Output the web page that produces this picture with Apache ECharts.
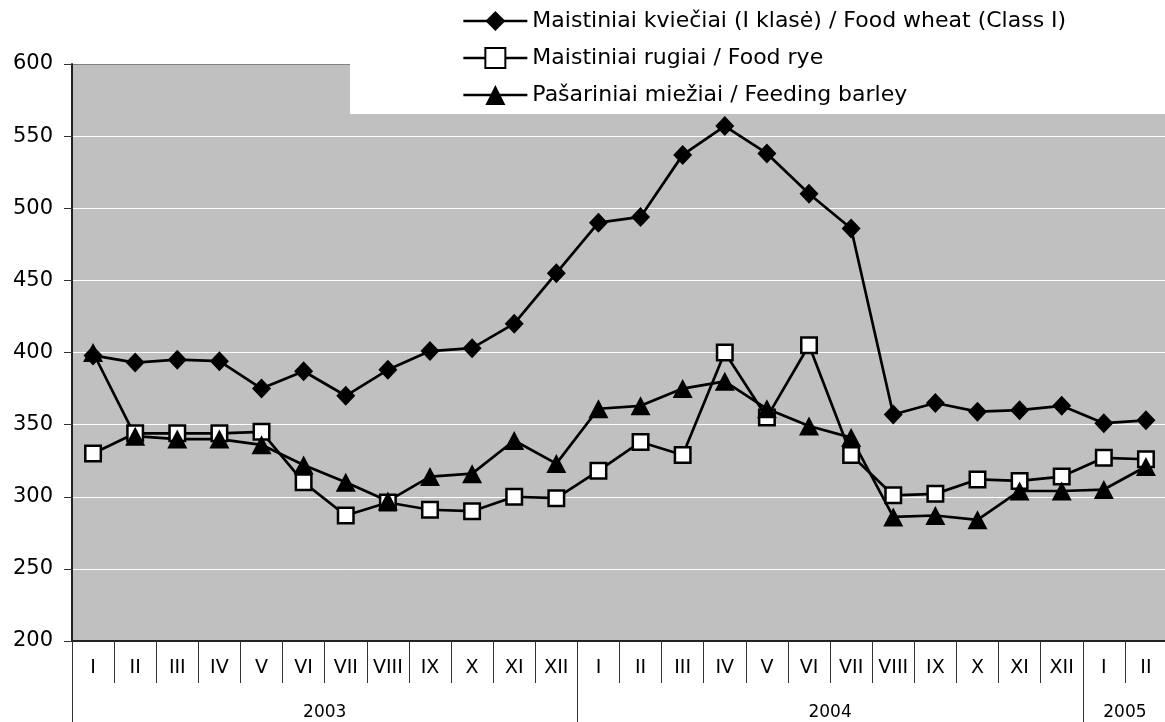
<!DOCTYPE html>
<html>
<head>
<meta charset="utf-8">
<title>Grain prices</title>
<script src="https://cdn.jsdelivr.net/npm/echarts@6/dist/echarts.min.js"></script>
<style>
  html, body { margin: 0; padding: 0; background: #fff; }
  #chart { width: 1165px; height: 722px; }
</style>
</head>
<body>
<div id="chart"></div>
<script>
// months (2003 I .. 2005 II)
var months = ['I','II','III','IV','V','VI','VII','VIII','IX','X','XI','XII',
              'I','II','III','IV','V','VI','VII','VIII','IX','X','XI','XII',
              'I','II'];
var years = ['2003', '2004', '2005'];
var yearMid = [6, 18, 25];          // middle of each year's span, in months
var yearBounds = [0, 12, 24, 26];   // separators, in months

var seriesNames = [
  'Maistiniai kviečiai (I klasė) / Food wheat (Class I)',
  'Maistiniai rugiai / Food rye',
  'Pašariniai miežiai / Feeding barley'
];
var wheat  = [398, 393, 395, 394, 375, 387, 370, 388, 401, 403, 420, 455,
              490, 494, 537, 557, 538, 510, 486, 357, 365, 359, 360, 363,
              351, 353];
var rye    = [330, 344, 344, 344, 345, 310, 287, 296, 291, 290, 300, 299,
              318, 338, 329, 400, 355, 405, 329, 301, 302, 312, 311, 314,
              327, 326];
var barley = [400, 342, 340, 340, 336, 322, 310, 297, 314, 316, 339, 323,
              361, 363, 375, 380, 361, 349, 341, 286, 287, 284, 304, 304,
              305, 321];

var chart = echarts.init(document.getElementById('chart'), null, { renderer: 'canvas' });

var FONT = 'DejaVu Sans';
var lineW = 2.7;

chart.setOption({
  animation: false,
  backgroundColor: '#fff',
  textStyle: { fontFamily: FONT, color: '#000' },
  legend: {
    orient: 'vertical',
    left: 350,
    top: 0,
    padding: [10, 600, 8, 112],
    backgroundColor: '#fff',
    itemWidth: 64,
    itemHeight: 25,
    itemGap: 15,
    lineStyle: { color: '#000', width: lineW },
    textStyle: { fontSize: 22, color: '#000', fontFamily: FONT, lineHeight: 22 },
    data: seriesNames
  },
  grid: {
    left: 72,
    right: -2,
    top: 64,
    bottom: 81,
    show: true,
    backgroundColor: '#C0C0C0',
    borderWidth: 0,
    outerBoundsMode: 'none'
  },
  xAxis: [
    {
      type: 'category',
      data: months,
      boundaryGap: true,
      position: 'bottom',
      axisLine: { show: true, lineStyle: { color: '#222', width: 2 } },
      axisTick: { show: true, interval: 0, length: 42, lineStyle: { color: '#333', width: 1 } },
      axisLabel: { interval: 0, fontSize: 19, lineHeight: 19, margin: 18, color: '#000', fontFamily: FONT },
      splitLine: { show: false }
    },
    {
      type: 'value',
      min: 0,
      max: 26,
      position: 'bottom',
      axisLine: { show: false },
      axisTick: { show: true, customValues: yearBounds, length: 81, lineStyle: { color: '#333', width: 1 } },
      axisLabel: {
        customValues: yearMid,
        fontSize: 17,
        lineHeight: 17,
        margin: 63,
        color: '#000',
        fontFamily: FONT,
        formatter: function (v) { return years[yearMid.indexOf(v)] || ''; }
      },
      splitLine: { show: false }
    }
  ],
  yAxis: {
    type: 'value',
    min: 200,
    max: 600,
    interval: 50,
    axisLine: { show: true, lineStyle: { color: '#222', width: 2 } },
    axisTick: { show: true, length: 8, lineStyle: { color: '#333' } },
    axisLabel: { fontSize: 21, margin: 19, color: '#000', fontFamily: FONT },
    splitLine: {
      show: true,
      lineStyle: {
        color: ['#fff', '#fff', '#fff', '#fff', '#fff', '#fff', '#fff', '#fff', '#808080'],
        width: 1
      }
    }
  },
  series: [
    {
      name: seriesNames[0],
      type: 'line',
      data: wheat,
      symbol: 'diamond',
      symbolSize: [19, 20],
      lineStyle: { color: '#000', width: lineW },
      itemStyle: { color: '#000', borderColor: '#000', borderWidth: 0 }
    },
    {
      name: seriesNames[1],
      type: 'line',
      data: rye,
      symbol: 'rect',
      symbolSize: 15.5,
      lineStyle: { color: '#000', width: lineW },
      itemStyle: { color: '#fff', borderColor: '#000', borderWidth: 2.5 }
    },
    {
      name: seriesNames[2],
      type: 'line',
      data: barley,
      symbol: 'triangle',
      symbolSize: [20, 19],
      lineStyle: { color: '#000', width: lineW },
      itemStyle: { color: '#000', borderColor: '#000', borderWidth: 0 }
    }
  ]
});
</script>
</body>
</html>
